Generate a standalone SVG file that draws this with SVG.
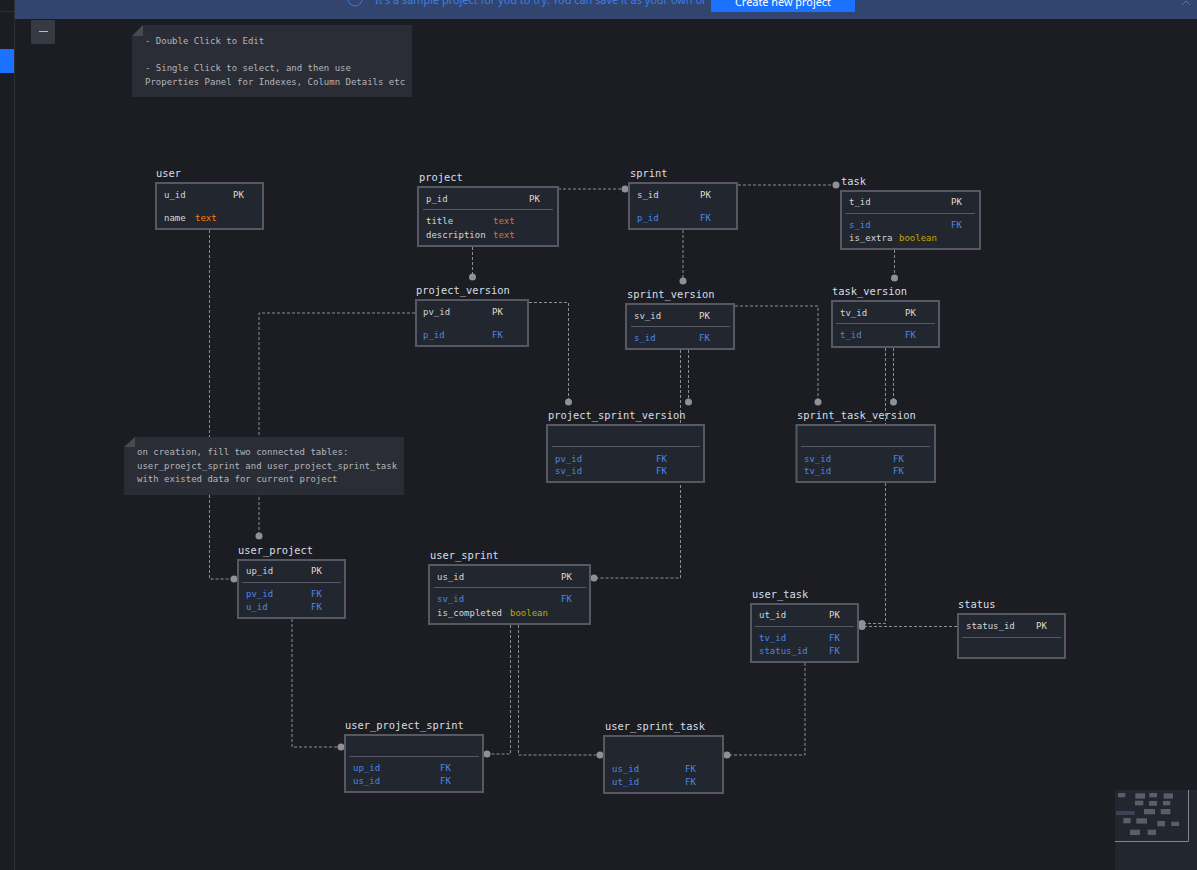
<svg xmlns="http://www.w3.org/2000/svg" width="1197" height="870" viewBox="0 0 1197 870">
<style>
text{font-family:"DejaVu Sans Mono","Liberation Mono",monospace;font-size:9px;fill:#d5d7da}
.t{font-size:10.4px;fill:#d5dfe8}
.pk{fill:#e6dcc4}
.fk{fill:#4a86e8}
.o{fill:#e0701a}
.b{fill:#c2a800}
.n{fill:#b4b6ba}
.box{fill:#22262e;stroke:#565963;stroke-width:2}
.div{stroke:#565963;stroke-width:1}
.c path{fill:none;stroke:#8d8e93;stroke-width:1;stroke-dasharray:3 2}
.c circle{fill:#8f9196}
.note{fill:#2b2e36;fill-opacity:.96}
.fold{fill:#484a52}
.m{fill:#5b5e68}
</style>
<rect width="1197" height="870" fill="#1c1d22"/>
<g id="sidebar">
<rect x="0" y="0" width="15" height="870" fill="#1b1d22"/>
<rect x="14" y="0" width="1" height="870" fill="#2c2f36"/>
<rect x="0" y="11" width="14" height="1" fill="#2c2f36"/>
<rect x="0" y="49" width="14" height="24" fill="#1a72ff"/>
</g>
<g id="banner">
<rect x="15" y="0" width="1182" height="19" fill="#31456e"/>
<circle cx="355" cy="-1" r="7" fill="none" stroke="#3f78e0" stroke-width="1"/>
<text x="375" y="4" style="font-family:'Noto Sans',sans-serif;font-size:10.9px;fill:#3f7de8">It's a sample project for you to try. You can save it as your own or</text>
<rect x="711" y="-4" width="144" height="16" rx="1" fill="#1a72ff"/>
<text x="783" y="6" text-anchor="middle" style="font-family:'Noto Sans',sans-serif;font-size:10.9px;fill:#fff">Create new project</text>
<path d="M1182 5L1186 1L1190 5" fill="none" stroke="#3f78e0" stroke-width="1"/>
</g>
<g id="collapse">
<rect x="31" y="20" width="24" height="24" rx="1" fill="#363a43"/>
<rect x="39" y="31" width="9" height="1" fill="#b8bbc0"/>
</g>
<g class="c" id="connectors">
<path d="M209.500 230V579H234"/><circle cx="234" cy="579" r="3.500"/>
<path d="M558 189H625"/><circle cx="625" cy="189" r="3.500"/>
<path d="M738 185H836"/><circle cx="836" cy="185" r="3.500"/>
<path d="M472.500 247V277"/><circle cx="472.500" cy="277" r="3.500"/>
<path d="M683 230V281"/><circle cx="683" cy="281" r="3.500"/>
<path d="M894.500 250V278"/><circle cx="894.500" cy="278" r="3.500"/>
<path d="M529 302.500H568.500V402"/><circle cx="568.500" cy="402" r="3.500"/>
<path d="M688.500 350V402"/><circle cx="688.500" cy="402" r="3.500"/>
<path d="M735 306H818V402"/><circle cx="818" cy="402" r="3.500"/>
<path d="M893.500 348V402"/><circle cx="893.500" cy="402" r="3.500"/>
<path d="M415 313H259V536"/><circle cx="259" cy="536" r="3.500"/>
<path d="M680.500 350V578H594"/><circle cx="594" cy="578" r="3.500"/>
<path d="M885.500 348V623.500H862"/><circle cx="862" cy="623.500" r="3.500"/>
<path d="M957 626.500H862"/><circle cx="862" cy="626.500" r="3.500"/>
<path d="M292 619V747H341"/><circle cx="341" cy="747" r="3.500"/>
<path d="M510.500 625V754H487"/><circle cx="487" cy="754" r="3.500"/>
<path d="M518.500 625V755H600"/><circle cx="600" cy="755" r="3.500"/>
<path d="M805 663V755H727"/><circle cx="727" cy="755" r="3.500"/>
</g>
<g id="note1">
<path class="note" d="M143 25H412V97H132V36Z"/>
<path class="fold" d="M132 36L143 25V36Z"/>
<text class="n" x="145" y="44">- Double Click to Edit</text>
<text class="n" x="145" y="71">- Single Click to select, and then use</text>
<text class="n" x="145" y="85">Properties Panel for Indexes, Column Details etc</text>
</g>
<g id="note2">
<path class="note" d="M135 437H404V495H124V448Z"/>
<path class="fold" d="M124 447L135 437V447Z"/>
<text class="n" x="137" y="455">on creation, fill two connected tables:</text>
<text class="n" x="137" y="469">user_proejct_sprint and user_project_sprint_task</text>
<text class="n" x="137" y="482">with existed data for current project</text>
</g>
<g id="user">
<text class="t" x="156" y="177">user</text>
<rect class="box" x="156" y="183" width="107" height="46"/>
<text x="164" y="198">u_id</text><text class="pk" x="233" y="198">PK</text>
<text x="164" y="221">name</text><text class="o" x="195" y="221" style="fill:#ff7a00">text</text>
</g>
<g id="project">
<text class="t" x="419" y="181">project</text>
<rect class="box" x="418" y="187" width="140" height="59"/>
<path class="div" d="M423 209.500H553"/>
<text x="426" y="202">p_id</text><text class="pk" x="529" y="202">PK</text>
<text x="426" y="224">title</text><text class="o" x="493" y="224">text</text>
<text x="426" y="238">description</text><text class="o" x="493" y="238">text</text>
</g>
<g id="sprint">
<text class="t" x="630" y="177">sprint</text>
<rect class="box" x="629" y="183" width="108" height="46"/>
<text x="637" y="198">s_id</text><text class="pk" x="700" y="198">PK</text>
<text class="fk" x="637" y="221">p_id</text><text class="fk" x="700" y="221">FK</text>
</g>
<g id="task">
<text class="t" x="841" y="185">task</text>
<rect class="box" x="841" y="191" width="139" height="58"/>
<path class="div" d="M845 213.500H975"/>
<text x="849" y="205">t_id</text><text class="pk" x="951" y="205">PK</text>
<text class="fk" x="849" y="228">s_id</text><text class="fk" x="951" y="228">FK</text>
<text x="849" y="241">is_extra</text><text class="b" x="899" y="241">boolean</text>
</g>
<g id="project_version">
<text class="t" x="416" y="294">project_version</text>
<rect class="box" x="416" y="300" width="112" height="46"/>
<text x="423" y="315">pv_id</text><text class="pk" x="492" y="315">PK</text>
<text class="fk" x="423" y="338">p_id</text><text class="fk" x="492" y="338">FK</text>
</g>
<g id="sprint_version">
<text class="t" x="627" y="298">sprint_version</text>
<rect class="box" x="626" y="304" width="108" height="45"/>
<path class="div" d="M631 326.500H730"/>
<text x="634" y="319">sv_id</text><text class="pk" x="699" y="319">PK</text>
<text class="fk" x="634" y="341">s_id</text><text class="fk" x="699" y="341">FK</text>
</g>
<g id="task_version">
<text class="t" x="832" y="295">task_version</text>
<rect class="box" x="832" y="301" width="107" height="46"/>
<path class="div" d="M836 323.500H935"/>
<text x="840" y="316">tv_id</text><text class="pk" x="905" y="316">PK</text>
<text class="fk" x="840" y="338">t_id</text><text class="fk" x="905" y="338">FK</text>
</g>
<g id="project_sprint_version">
<text class="t" x="548" y="419">project_sprint_version</text>
<rect class="box" x="547" y="425" width="157" height="57"/>
<path class="div" d="M552 446.500H700"/>
<text class="fk" x="555" y="462">pv_id</text><text class="fk" x="656" y="462">FK</text>
<text class="fk" x="555" y="474">sv_id</text><text class="fk" x="656" y="474">FK</text>
</g>
<g id="sprint_task_version">
<text class="t" x="797" y="419">sprint_task_version</text>
<rect class="box" x="796.500" y="425" width="138.500" height="57"/>
<path class="div" d="M801 446.500H930"/>
<text class="fk" x="804" y="462">sv_id</text><text class="fk" x="893" y="462">FK</text>
<text class="fk" x="804" y="474">tv_id</text><text class="fk" x="893" y="474">FK</text>
</g>
<g id="user_project">
<text class="t" x="238" y="554">user_project</text>
<rect class="box" x="238" y="560" width="107" height="58"/>
<path class="div" d="M242 582.500H341"/>
<text x="246" y="574">up_id</text><text class="pk" x="311" y="574">PK</text>
<text class="fk" x="246" y="597">pv_id</text><text class="fk" x="311" y="597">FK</text>
<text class="fk" x="246" y="610">u_id</text><text class="fk" x="311" y="610">FK</text>
</g>
<g id="user_sprint">
<text class="t" x="430" y="559">user_sprint</text>
<rect class="box" x="429" y="565" width="161" height="59"/>
<path class="div" d="M434 587.500H586"/>
<text x="437" y="580">us_id</text><text class="pk" x="561" y="580">PK</text>
<text class="fk" x="437" y="602">sv_id</text><text class="fk" x="561" y="602">FK</text>
<text x="437" y="616">is_completed</text><text class="b" x="510" y="616">boolean</text>
</g>
<g id="user_project_sprint">
<text class="t" x="345" y="729">user_project_sprint</text>
<rect class="box" x="345" y="735" width="138" height="57"/>
<path class="div" d="M349 756.500H479"/>
<text class="fk" x="353" y="771">up_id</text><text class="fk" x="440" y="771">FK</text>
<text class="fk" x="353" y="784">us_id</text><text class="fk" x="440" y="784">FK</text>
</g>
<g id="user_sprint_task">
<text class="t" x="605" y="730">user_sprint_task</text>
<rect class="box" x="604" y="736" width="119" height="57"/>
<text class="fk" x="612" y="772">us_id</text><text class="fk" x="685" y="772">FK</text>
<text class="fk" x="612" y="785">ut_id</text><text class="fk" x="685" y="785">FK</text>
</g>
<g id="user_task">
<text class="t" x="752" y="598">user_task</text>
<rect class="box" x="751" y="604" width="107" height="58"/>
<path class="div" d="M755 626.500H854"/>
<text x="759" y="618">ut_id</text><text class="pk" x="829" y="618">PK</text>
<text class="fk" x="759" y="641">tv_id</text><text class="fk" x="829" y="641">FK</text>
<text class="fk" x="759" y="654">status_id</text><text class="fk" x="829" y="654">FK</text>
</g>
<g id="status">
<text class="t" x="958" y="608">status</text>
<rect class="box" x="958" y="614" width="107" height="44"/>
<path class="div" d="M962 637.500H1061"/>
<text x="966" y="629">status_id</text><text class="pk" x="1036" y="629">PK</text>
</g>
<g id="minimap">
<rect x="1115" y="790" width="82" height="80" fill="#22262e"/>
<path d="M1188.500 790V841.500H1115" fill="none" stroke="#84878e" stroke-width="1"/>
<rect class="m" x="1118" y="793" width="7.300" height="4.300"/>
<rect class="m" x="1135.300" y="793.300" width="9.700" height="5.300"/>
<rect class="m" x="1149.300" y="793" width="7.700" height="4.300"/>
<rect class="m" x="1163.700" y="793.300" width="9.300" height="5.300"/>
<rect class="m" x="1135" y="800.700" width="8.300" height="4.700"/>
<rect class="m" x="1149" y="801" width="8" height="4.700"/>
<rect class="m" x="1163" y="801" width="7.300" height="4.300"/>
<rect x="1116" y="811" width="18.700" height="4" fill="#3d4350"/>
<rect class="m" x="1144" y="809" width="11" height="5.300"/>
<rect class="m" x="1160.700" y="809" width="9.700" height="5.300"/>
<rect class="m" x="1123.300" y="818" width="7.300" height="5.300"/>
<rect class="m" x="1136.300" y="818.300" width="10.700" height="5.300"/>
<rect class="m" x="1157.300" y="821" width="7.700" height="5.300"/>
<rect class="m" x="1171.300" y="821.700" width="7.700" height="4.300"/>
<rect class="m" x="1130" y="829.700" width="10" height="5.300"/>
<rect class="m" x="1147.700" y="829.700" width="8.300" height="5.300"/>
</g>
</svg>
